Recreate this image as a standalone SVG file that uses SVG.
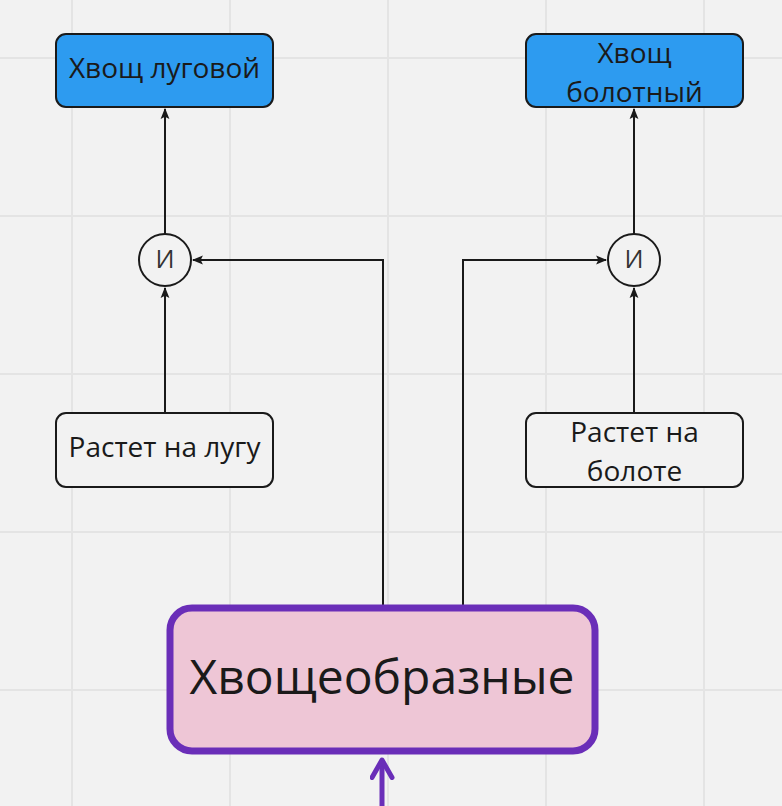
<svg xmlns="http://www.w3.org/2000/svg" width="782" height="806" viewBox="0 0 782 806">
<defs>
<style>
.grid{stroke:#e4e4e4;stroke-width:2}
.blue{fill:#2d9bf0;stroke:#1a1a1a;stroke-width:2}
.plain{fill:#f2f2f2;stroke:#1a1a1a;stroke-width:2}
.lbl{font-family:"Open Sans","Noto Sans",sans-serif;font-size:28px;fill:#1a1a1a;text-anchor:middle}
.and{font-size:25px;fill:#333}
.edge{fill:none;stroke:#1a1a1a;stroke-width:2}
</style>
<marker id="ah" viewBox="0 0 10 10" refX="9" refY="5" markerWidth="11" markerHeight="11" markerUnits="userSpaceOnUse" orient="auto">
<path d="M0,1 L10,5 L0,9 L2,5 Z" fill="#1a1a1a"/>
</marker>
<marker id="ahp" viewBox="0 0 10 10" refX="8" refY="5" markerWidth="5" markerHeight="5" orient="auto">
<path d="M1,1 L8,5 L1,9" fill="none" stroke="#6a2eb8" stroke-width="2" stroke-linejoin="round" stroke-linecap="round"/>
</marker>
</defs>
<rect width="782" height="806" fill="#f2f2f2"/>
<g id="grid">
<path class="grid" d="M72,0V806M230,0V806M388,0V806M546,0V806M704,0V806M0,58H782M0,216H782M0,374H782M0,532H782M0,690H782"/>
</g>
<g id="connectors">
<path class="edge" d="M165,234V109" marker-end="url(#ah)"/>
<path class="edge" d="M165,413V288" marker-end="url(#ah)"/>
<path class="edge" d="M383,606V260H193" marker-end="url(#ah)"/>
<path class="edge" d="M634,234V109" marker-end="url(#ah)"/>
<path class="edge" d="M634,413V288" marker-end="url(#ah)"/>
<path class="edge" d="M463,606V260H606" marker-end="url(#ah)"/>
<path d="M382,806V760" fill="none" stroke="#6a2eb8" stroke-width="5" marker-end="url(#ahp)"/>
</g>
<g id="node-lugovoy">
<rect class="blue" x="56" y="34" width="217" height="73" rx="10"/>
<text class="lbl" x="164.5" y="78">Хвощ луговой</text>
</g>
<g id="node-bolotny">
<rect class="blue" x="526" y="34" width="217" height="73" rx="10"/>
<text class="lbl" x="634.5" y="63">Хвощ</text>
<text class="lbl" x="634.5" y="102">болотный</text>
</g>
<g id="and-left">
<circle cx="165" cy="260" r="26" class="plain"/>
<text class="lbl and" x="165" y="268">И</text>
</g>
<g id="and-right">
<circle cx="634" cy="260" r="26" class="plain"/>
<text class="lbl and" x="634" y="268">И</text>
</g>
<g id="node-lug">
<rect class="plain" x="56" y="413" width="217" height="74" rx="10"/>
<text class="lbl" x="164.5" y="457">Растет на лугу</text>
</g>
<g id="node-bolote">
<rect class="plain" x="526" y="413" width="217" height="74" rx="10"/>
<text class="lbl" x="634.5" y="442">Растет на</text>
<text class="lbl" x="634.5" y="481">болоте</text>
</g>
<g id="node-main">
<rect x="170" y="608" width="425" height="143" rx="22" fill="#eec6d6" stroke="#6a2eb8" stroke-width="7"/>
<text class="lbl" x="382" y="694" style="font-size:48px">Хвощеобразные</text>
</g>
</svg>
